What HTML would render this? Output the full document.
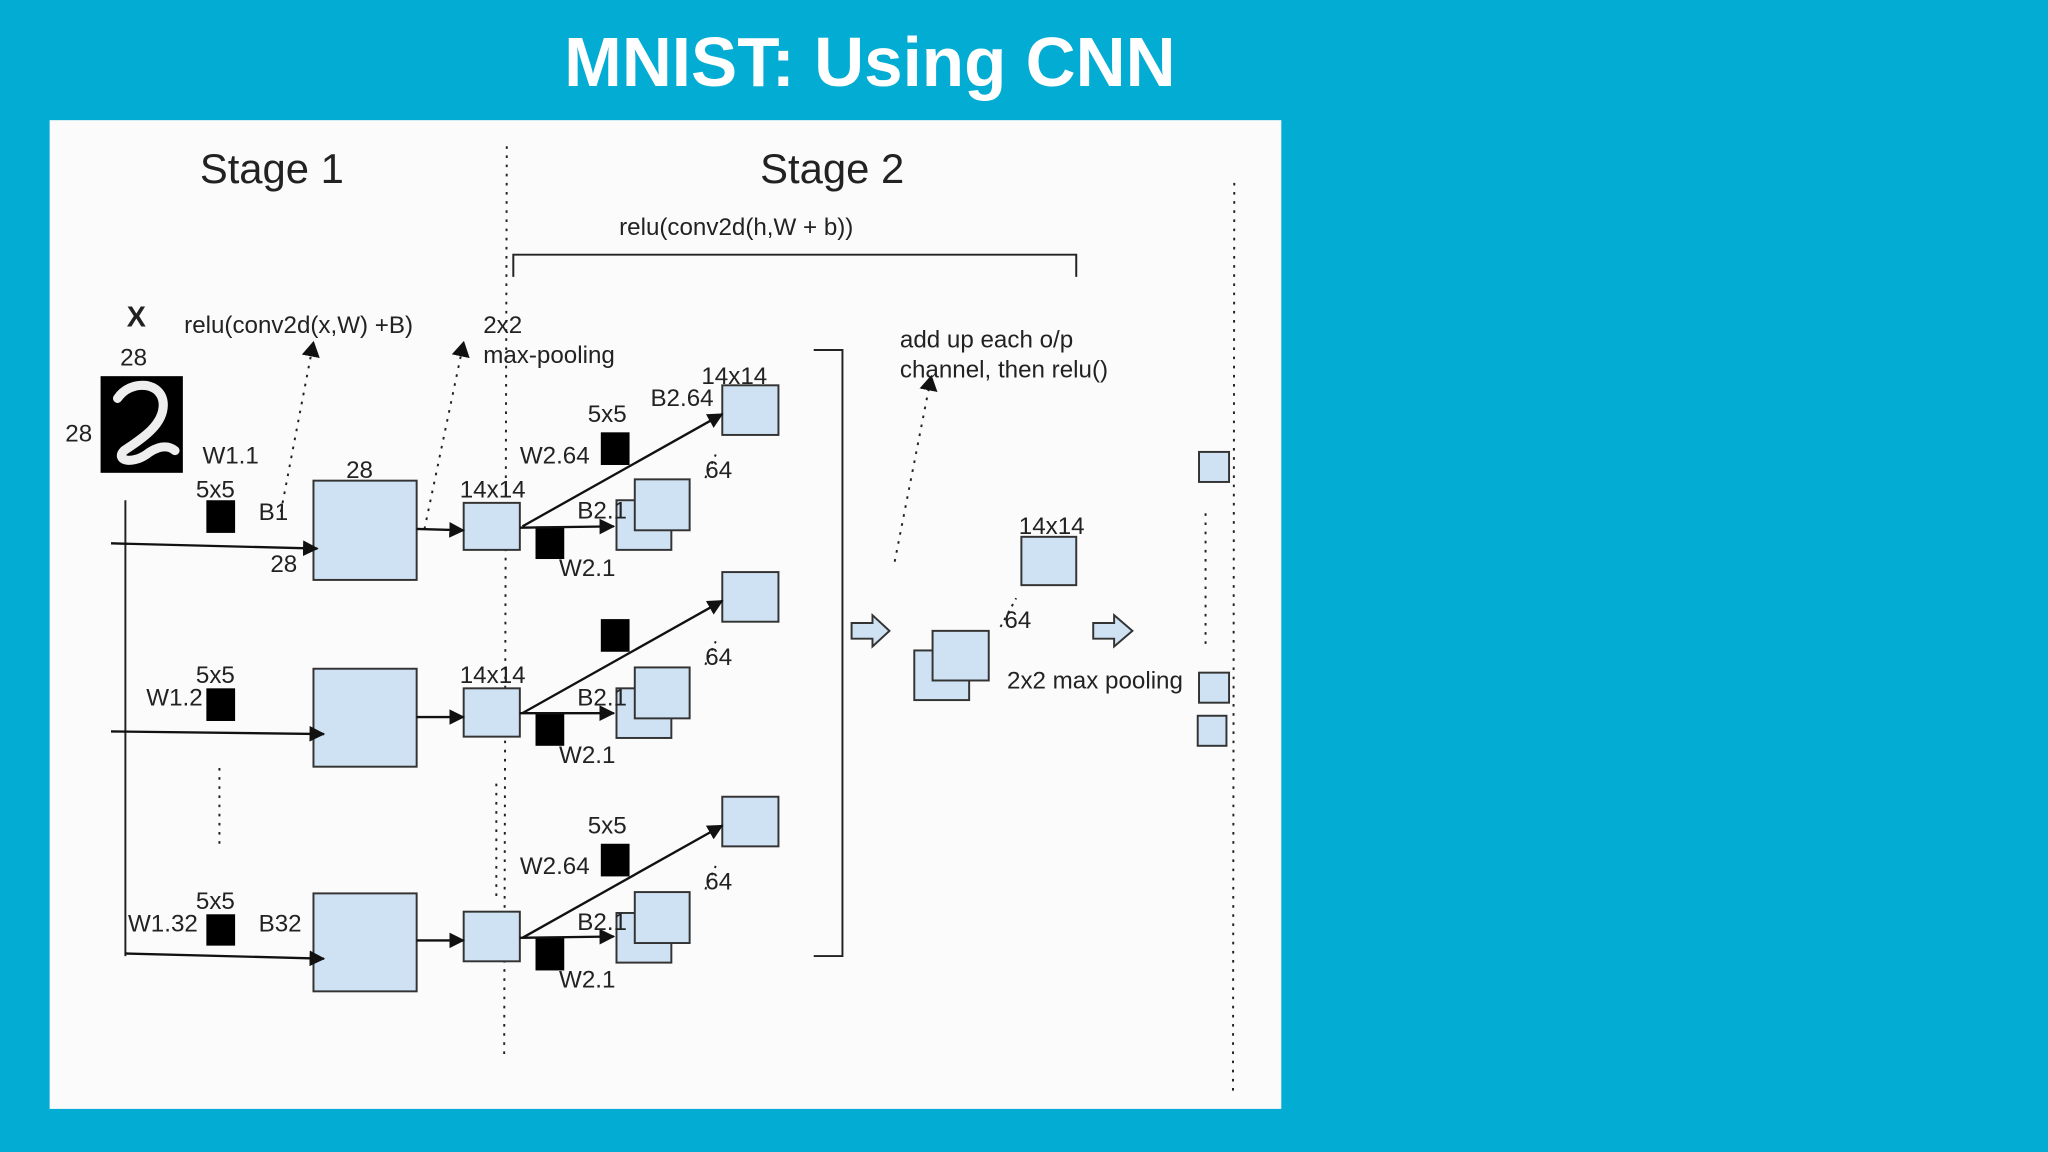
<!DOCTYPE html>
<html><head><meta charset="utf-8"><style>
html,body{margin:0;padding:0;background:#02acd3;}
svg{display:block}
text{font-family:"Liberation Sans",sans-serif;fill:#222}
</style></head><body>
<svg width="2048" height="1152" viewBox="0 0 1568 882" xmlns="http://www.w3.org/2000/svg">
<defs>
<marker id="a" markerWidth="12" markerHeight="14" refX="11" refY="7" orient="auto" markerUnits="userSpaceOnUse"><path d="M0,0 L12,7 L0,14 z" fill="#111"/></marker>
<marker id="b" markerWidth="12" markerHeight="12" refX="11" refY="6" orient="auto" markerUnits="userSpaceOnUse"><path d="M0,0 L12,6 L0,12 z" fill="#111"/></marker>
</defs>
<rect width="1568" height="882" fill="#02acd3"/>
<text x="666" y="66" text-anchor="middle" font-size="53" font-weight="bold" style="fill:#fff">MNIST: Using CNN</text>
<rect x="38" y="92" width="943" height="757" fill="#fbfbfb"/>
<g stroke="#222" stroke-width="1.5" fill="none">
<line x1="388" y1="112" x2="386" y2="810" stroke-dasharray="2,5"/>
<line x1="945" y1="140" x2="944" y2="840" stroke-dasharray="2,5"/>
<line x1="168" y1="588" x2="168" y2="650" stroke-dasharray="2,5"/>
<line x1="923" y1="393" x2="923" y2="495" stroke-dasharray="2,5"/>
<line x1="380" y1="600" x2="380" y2="690" stroke-dasharray="2,5"/>
<polyline points="393,212 393,195 824,195 824,212"/>
<polyline points="623,268 645,268 645,732 623,732"/>
<line x1="96" y1="383" x2="96" y2="732"/>
<line x1="215" y1="392" x2="240" y2="262" stroke-dasharray="2,5" marker-end="url(#a)"/>
<line x1="325" y1="405" x2="355" y2="262" stroke-dasharray="2,5" marker-end="url(#a)"/>
<line x1="685" y1="430" x2="713" y2="288" stroke-dasharray="2,5" marker-end="url(#a)"/>
<line x1="540" y1="366" x2="548" y2="348" stroke-dasharray="2,4"/>
<line x1="540" y1="509" x2="548" y2="491" stroke-dasharray="2,4"/>
<line x1="540" y1="681" x2="548" y2="663" stroke-dasharray="2,4"/>
<line x1="766" y1="480" x2="778" y2="458" stroke-dasharray="2,4"/>
</g>
<g font-size="32"><text x="153" y="140">Stage 1</text><text x="582" y="140">Stage 2</text></g>
<g font-size="18.5">
<text x="474" y="180">relu(conv2d(h,W + b))</text>
<text x="97" y="250" font-size="22" font-weight="bold">X</text>
<text x="141" y="255">relu(conv2d(x,W) +B)</text>
<text x="370" y="255">2x2</text><text x="370" y="278">max-pooling</text>
<text x="92" y="280">28</text><text x="50" y="338">28</text>
<text x="689" y="266">add up each o/p</text><text x="689" y="289">channel, then relu()</text>
<text x="780" y="409">14x14</text><text x="769" y="481">64</text>
<text x="771" y="527">2x2 max pooling</text>
</g>
<rect x="77" y="288" width="63" height="74" fill="#000"/>
<path d="M90,305 C100,290 125,292 125,310 C125,325 110,335 95,345 C88,352 100,356 112,348 C120,342 128,340 134,345" stroke="#eee" stroke-width="7" fill="none" stroke-linecap="round"/>

<g stroke="#333" stroke-width="1.5" fill="#cfe2f3">
<rect x="240" y="368" width="79" height="76"/>
<rect x="355" y="385" width="43" height="36"/>
<rect x="472" y="383" width="42" height="38"/><rect x="486" y="367" width="42" height="39"/>
<rect x="553" y="295" width="43" height="38"/>
<rect x="240" y="512" width="79" height="75"/>
<rect x="355" y="527" width="43" height="37"/>
<rect x="472" y="527" width="42" height="38"/><rect x="486" y="511" width="42" height="39"/>
<rect x="553" y="438" width="43" height="38"/>
<rect x="240" y="684" width="79" height="75"/>
<rect x="355" y="698" width="43" height="38"/>
<rect x="472" y="699" width="42" height="38"/><rect x="486" y="683" width="42" height="39"/>
<rect x="553" y="610" width="43" height="38"/>
<rect x="700" y="498" width="42" height="38"/><rect x="714" y="483" width="43" height="38"/>
<rect x="782" y="411" width="42" height="37"/>
<rect x="918" y="346" width="23" height="23"/><rect x="918" y="515" width="23" height="23"/><rect x="917" y="548" width="22" height="23"/>
</g>
<g fill="#cfe2f3" stroke="#333" stroke-width="1.5">
<path d="M652,477 L668,477 L668,471 L681,483 L668,495 L668,489 L652,489 z"/>
<path d="M837,477 L853,477 L853,471 L867,483 L853,495 L853,489 L837,489 z"/>
</g>
<g fill="#000">
<rect x="158" y="383" width="22" height="25"/><rect x="158" y="527" width="22" height="25"/><rect x="158" y="700" width="22" height="24"/>
<rect x="410" y="403" width="22" height="25"/><rect x="410" y="546" width="22" height="25"/><rect x="410" y="718" width="22" height="25"/>
<rect x="460" y="331" width="22" height="25"/><rect x="460" y="474" width="22" height="25"/><rect x="460" y="646" width="22" height="25"/>
</g>
<g stroke="#111" stroke-width="1.8" fill="none">
<line x1="85" y1="416" x2="243" y2="420" marker-end="url(#b)"/>
<line x1="85" y1="560" x2="248" y2="562" marker-end="url(#b)"/>
<line x1="96" y1="730" x2="248" y2="734" marker-end="url(#b)"/>
<line x1="319" y1="405" x2="355" y2="406" marker-end="url(#b)"/>
<line x1="319" y1="549" x2="355" y2="549" marker-end="url(#b)"/>
<line x1="319" y1="720" x2="355" y2="720" marker-end="url(#b)"/>
<line x1="398" y1="404" x2="470" y2="403" marker-end="url(#b)"/>
<line x1="398" y1="546" x2="470" y2="546" marker-end="url(#b)"/>
<line x1="398" y1="718" x2="470" y2="717" marker-end="url(#b)"/>
<line x1="400" y1="403" x2="553" y2="317" marker-end="url(#b)"/>
<line x1="400" y1="546" x2="553" y2="460" marker-end="url(#b)"/>
<line x1="400" y1="718" x2="553" y2="632" marker-end="url(#b)"/>
</g>
<g font-size="18.5">
<text x="155" y="355">W1.1</text><text x="150" y="381">5x5</text><text x="198" y="398">B1</text>
<text x="207" y="438">28</text><text x="265" y="366">28</text><text x="352" y="381">14x14</text>
<text x="442" y="397">B2.1</text><text x="428" y="441">W2.1</text>
<text x="537" y="294">14x14</text><text x="498" y="311">B2.64</text><text x="450" y="323">5x5</text><text x="398" y="355">W2.64</text><text x="540" y="366">64</text>
<text x="112" y="540">W1.2</text><text x="150" y="523">5x5</text><text x="352" y="523">14x14</text>
<text x="442" y="540">B2.1</text><text x="428" y="584">W2.1</text><text x="540" y="509">64</text>
<text x="98" y="713">W1.32</text><text x="150" y="696">5x5</text><text x="198" y="713">B32</text>
<text x="442" y="712">B2.1</text><text x="428" y="756">W2.1</text>
<text x="450" y="638">5x5</text><text x="398" y="669">W2.64</text><text x="540" y="681">64</text>
</g>
</svg>
</body></html>
